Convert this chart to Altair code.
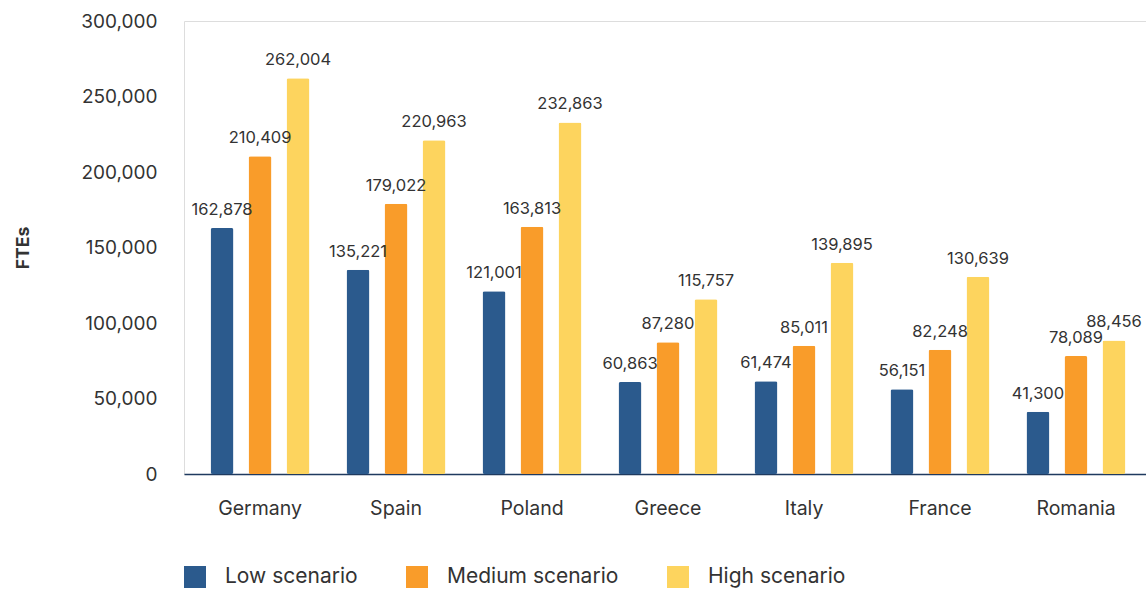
import altair as alt
import pandas as pd

countries = ["Germany", "Spain", "Poland", "Greece", "Italy", "France", "Romania"]
scenarios = ["Low scenario", "Medium scenario", "High scenario"]
low = [162878, 135221, 121001, 60863, 61474, 56151, 41300]
medium = [210409, 179022, 163813, 87280, 85011, 82248, 78089]
high = [262004, 220963, 232863, 115757, 139895, 130639, 88456]
colors = ["#2B5A8D", "#F99C2A", "#FDD45E"]

rows = []
for i, c in enumerate(countries):
    for s, vals in zip(scenarios, [low, medium, high]):
        rows.append({"Country": c, "Scenario": s, "Value": vals[i]})
df = pd.DataFrame(rows)

FONT = "Inter"
TXT = "#333333"

x = alt.X("Country:N", sort=countries, title=None,
          scale=alt.Scale(paddingInner=0, paddingOuter=0.037, align=0.8),
          axis=alt.Axis(labelAngle=0, labelFontSize=19.5, labelColor=TXT, labelFont=FONT,
                        labelPadding=25, ticks=False, domainColor="#1F3A5F",
                        domainWidth=1.5))
xo = alt.XOffset("Scenario:N", sort=scenarios,
                 scale=alt.Scale(paddingInner=0.395, paddingOuter=0.487))
y = alt.Y("Value:Q", title="FTEs",
          scale=alt.Scale(domain=[0, 300000], nice=False),
          axis=alt.Axis(values=[0, 50000, 100000, 150000, 200000, 250000, 300000],
                        format=",.0f", grid=False, domain=False, ticks=False,
                        labelFontSize=19, labelColor=TXT, labelFont=FONT, labelPadding=27,
                        titleFontSize=17.5, titleFont=FONT, titleFontWeight="bold",
                        titleColor=TXT, titlePadding=48))
color = alt.Color("Scenario:N", sort=scenarios,
                  scale=alt.Scale(domain=scenarios, range=colors),
                  legend=alt.Legend(title=None, orient="none", direction="horizontal",
                                    legendX=0, legendY=545, symbolType="square",
                                    symbolSize=484, symbolStrokeWidth=0,
                                    labelFontSize=21, labelFont=FONT, labelColor=TXT,
                                    labelLimit=400, labelOffset=19, columnPadding=48))

bars = alt.Chart(df).mark_bar(cornerRadiusTopLeft=2, cornerRadiusTopRight=2,
                              cornerRadiusBottomLeft=2, cornerRadiusBottomRight=2).encode(
    x=x, xOffset=xo, y=y, color=color)

labels = alt.Chart(df).mark_text(dy=-18, fontSize=16.5, font=FONT, color=TXT).encode(
    x=x, xOffset=xo, y=y, text=alt.Text("Value:Q", format=","))

chart = alt.layer(bars, labels).properties(
    width=962, height=453,
    autosize=alt.AutoSizeParams(type="none"),
    padding={"left": 184, "top": 21, "right": 0, "bottom": 117},
).configure_view(stroke=None).configure(background="white")

chart.save("out.html", embed_options={"renderer": "svg", "actions": False})
